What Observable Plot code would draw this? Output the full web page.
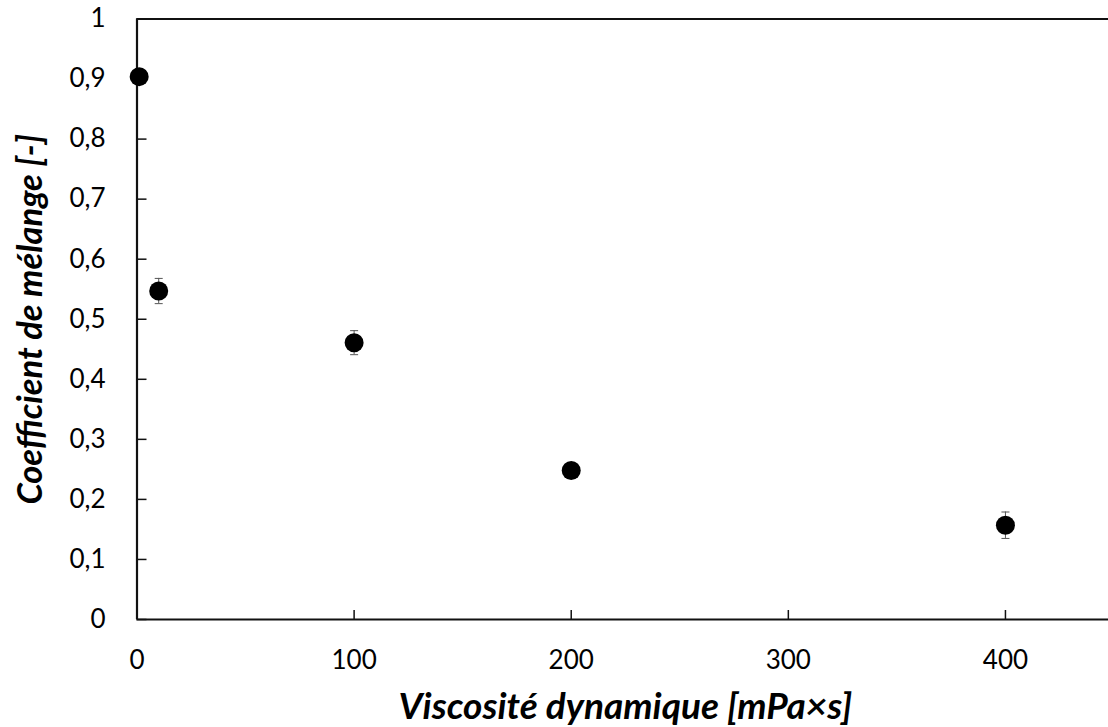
<!DOCTYPE html>
<html>
<head>
<meta charset="utf-8">
<script src="https://cdn.jsdelivr.net/npm/d3@7"></script>
<script src="https://cdn.jsdelivr.net/npm/@observablehq/plot@0.6"></script>
<style>
  html, body { margin: 0; padding: 0; background: #fff; }
  #chart svg { display: block; }
</style>
</head>
<body>
<div id="chart"></div>
<script>
const viscosity = [1, 10, 100, 200, 400];
const mixing = [0.904, 0.547, 0.461, 0.248, 0.157];
const errorBar = [0.004, 0.021, 0.020, 0.005, 0.022];
const xTicks = [0, 100, 200, 300, 400];
const yTicks = [0, 0.1, 0.2, 0.3, 0.4, 0.5, 0.6, 0.7, 0.8, 0.9, 1];
const xTitle = "Viscosité dynamique [mPa×s]";
const yTitle = "Coefficient de mélange [-]";

const data = viscosity.map((v, i) => ({x: v, y: mixing[i], lo: mixing[i] - errorBar[i], hi: mixing[i] + errorBar[i]}));

const fmt = v => String(Math.round(v * 10) / 10).replace(".", ",");

const capSymbol = {
  draw(context) {
    context.moveTo(-4, 0);
    context.lineTo(4, 0);
  }
};

const chart = Plot.plot({
  width: 1108,
  height: 727,
  marginLeft: 136.5,
  marginRight: -5.5,
  marginTop: 18.5,
  marginBottom: 108,
  style: {fontFamily: "Lato, 'Open Sans', sans-serif", background: "#fff"},
  x: {domain: [0, 450]},
  y: {domain: [0, 1]},
  marks: [
    Plot.ruleY([1], {stroke: "#111", strokeWidth: 2.2}),
    Plot.axisX({ticks: xTicks, tickSize: -9, tickPadding: 40, tickFormat: d => String(d), fontSize: 26, fill: "#000", stroke: "#111", strokeWidth: 1.5, label: null}),
    Plot.axisY({ticks: yTicks, tickSize: -10, tickPadding: 41.5, tickFormat: fmt, fontSize: 26, fill: "#000", stroke: "#111", strokeWidth: 1.5, label: null}),
    Plot.ruleX([0], {stroke: "#111", strokeWidth: 2.2}),
    Plot.ruleY([0], {stroke: "#111", strokeWidth: 2.2}),
    Plot.ruleX(data, {x: "x", y1: "lo", y2: "hi", stroke: "#555", strokeWidth: 1}),
    Plot.dot(data, {x: "x", y: "lo", symbol: capSymbol, stroke: "#555", strokeWidth: 1, r: 4}),
    Plot.dot(data, {x: "x", y: "hi", symbol: capSymbol, stroke: "#555", strokeWidth: 1, r: 4}),
    Plot.dot(data, {x: "x", y: "y", r: 9.5, fill: "#000", stroke: "none"}),
    Plot.text([xTitle], {frameAnchor: "bottom", lineAnchor: "middle", textAnchor: "middle", dy: 88, fontSize: 37, fontWeight: "bold", fontStyle: "italic", fill: "#000"}),
    Plot.text([yTitle], {frameAnchor: "left", lineAnchor: "middle", textAnchor: "middle", dx: -106, rotate: -90, fontSize: 34.5, fontWeight: "bold", fontStyle: "italic", fill: "#000"})
  ]
});
document.getElementById("chart").appendChild(chart);
</script>
</body>
</html>
